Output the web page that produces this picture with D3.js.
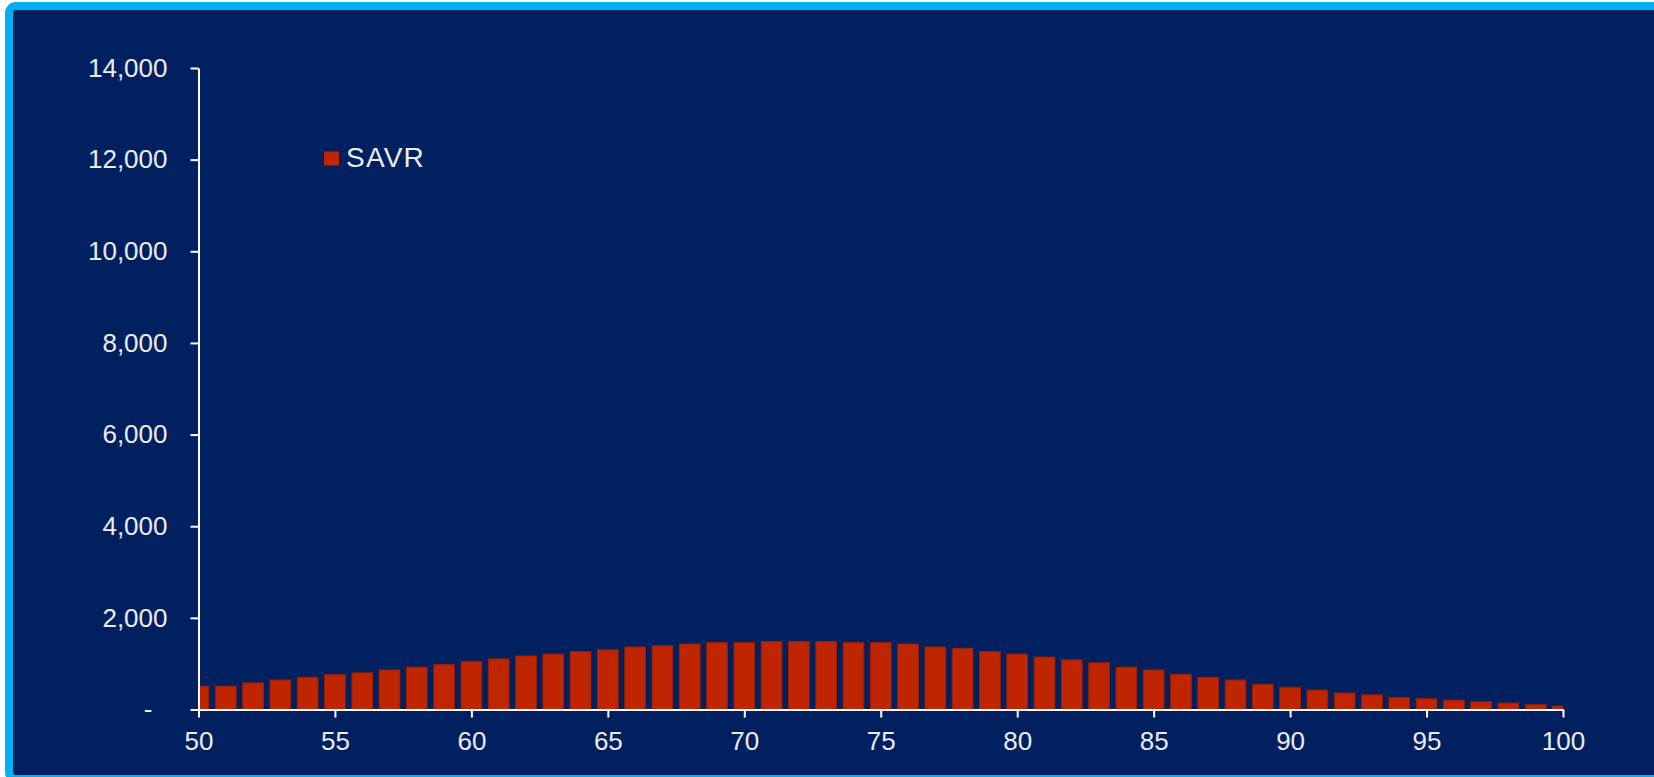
<!DOCTYPE html>
<html>
<head>
<meta charset="utf-8">
<script src="https://cdn.jsdelivr.net/npm/d3@7/dist/d3.min.js"></script>
<style>
  html, body { margin: 0; padding: 0; background: #ffffff; }
  svg { display: block; }
  text { font-family: "Liberation Sans", Arial, sans-serif; }
</style>
</head>
<body>
<svg id="chart" width="1654" height="777"></svg>
<script>
// Patient age (years)
const ages = [50, 51, 52, 53, 54, 55, 56, 57, 58, 59,
              60, 61, 62, 63, 64, 65, 66, 67, 68, 69,
              70, 71, 72, 73, 74, 75, 76, 77, 78, 79,
              80, 81, 82, 83, 84, 85, 86, 87, 88, 89,
              90, 91, 92, 93, 94, 95, 96, 97, 98, 99, 100];

// SAVR procedures per age
const savr = [510, 510, 580, 645, 705, 760, 800, 865, 925, 980,
              1050, 1105, 1170, 1210, 1265, 1305, 1365, 1390, 1430, 1460,
              1460, 1485, 1485, 1485, 1460, 1460, 1430, 1365, 1335, 1265,
              1210, 1145, 1085, 1020, 925, 865, 770, 705, 645, 550,
              485, 425, 360, 320, 265, 235, 205, 170, 140, 105, 75];

const seriesName = "SAVR";
const yTicks = [0, 2000, 4000, 6000, 8000, 10000, 12000, 14000];
const xTicks = [50, 55, 60, 65, 70, 75, 80, 85, 90, 95, 100];

const svg = d3.select("#chart");
const W = 1654, H = 777;
const plot = { left: 198.5, right: 1563, top: 68, bottom: 709.5 };

const textColor = "#ececec";
const barFill = "#bf2600";
const barEdge = "#9a1d00";

// Frame: navy panel with a light blue border
svg.append("rect")
  .attr("x", 9).attr("y", 6)
  .attr("width", W + 40).attr("height", H - 4)
  .attr("rx", 7).attr("ry", 7)
  .attr("fill", "#002060")
  .attr("stroke", "#00b0f0")
  .attr("stroke-width", 8);

const x = d3.scaleLinear().domain([50, 100]).range([plot.left, plot.right]);
const y = d3.scaleLinear().domain([0, 14000]).range([plot.bottom, plot.top]);

const step = x(51) - x(50);
const barW = step * 0.76;

svg.append("defs").append("clipPath").attr("id", "plotClip")
  .append("rect")
  .attr("x", plot.left).attr("y", plot.top - 5)
  .attr("width", plot.right - plot.left)
  .attr("height", plot.bottom - plot.top + 5);

// Columns, centred on each age; the first and last are cut by the plot edges
svg.append("g").attr("clip-path", "url(#plotClip)")
  .selectAll("rect")
  .data(ages.map((a, i) => ({ age: a, v: savr[i] })))
  .join("rect")
  .attr("x", d => x(d.age) - barW / 2)
  .attr("y", d => y(d.v))
  .attr("width", barW)
  .attr("height", d => y(0) - y(d.v))
  .attr("fill", barFill)
  .attr("stroke", barEdge)
  .attr("stroke-width", 1);

// Y axis
const fmt = d3.format(",");
const yAxis = svg.append("g")
  .attr("transform", `translate(${plot.left},0)`)
  .call(d3.axisLeft(y)
    .tickValues(yTicks)
    .tickFormat(d => d === 0 ? "-" : fmt(d))
    .tickSize(8)
    .tickSizeOuter(0)
    .tickPadding(23));

// X axis
const xAxis = svg.append("g")
  .attr("transform", `translate(0,${plot.bottom})`)
  .call(d3.axisBottom(x)
    .tickValues(xTicks)
    .tickFormat(d3.format("d"))
    .tickSize(8)
    .tickSizeOuter(0)
    .tickPadding(14));

[yAxis, xAxis].forEach(g => {
  g.select(".domain").attr("stroke", "#ffffff").attr("stroke-width", 2);
  g.selectAll(".tick line").attr("stroke", "#ffffff").attr("stroke-width", 2);
  g.selectAll(".tick text")
    .attr("fill", textColor)
    .attr("font-size", 26)
    .attr("font-family", "'Liberation Sans', Arial, sans-serif");
});

// Zero label sits a little further left, as an accounting-style dash
yAxis.selectAll(".tick").filter(d => d === 0).select("text").attr("dx", -15);

// Legend
const legend = svg.append("g");
legend.append("rect")
  .attr("x", 324).attr("y", 151.5)
  .attr("width", 15).attr("height", 14)
  .attr("fill", barFill);
legend.append("text")
  .attr("x", 346).attr("y", 167)
  .attr("fill", textColor)
  .attr("font-size", 28)
  .attr("letter-spacing", 1.2)
  .text(seriesName);
</script>
</body>
</html>
